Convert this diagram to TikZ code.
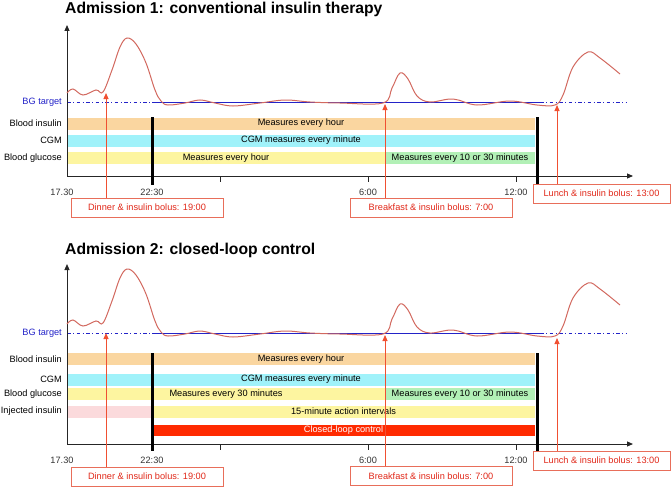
\documentclass[tikz,border=0pt]{standalone}
\usepackage{fontspec}
\setmainfont{Liberation Sans}
\usetikzlibrary{arrows.meta,positioning,calc}
\definecolor{BandOrange}{RGB}{250,214,160}
\definecolor{BandCyan}{RGB}{160,242,250}
\definecolor{BandYellow}{RGB}{253,245,160}
\definecolor{BandGreen}{RGB}{178,240,182}
\definecolor{BandPink}{RGB}{251,218,220}
\definecolor{LoopRed}{RGB}{255,42,0}
\definecolor{CurveRed}{RGB}{210,105,95}
\definecolor{ArrowRed}{RGB}{240,80,50}
\definecolor{CalloutRed}{RGB}{232,110,90}
\definecolor{TextRed}{RGB}{225,40,25}
\definecolor{TargetBlue}{RGB}{35,35,200}
\tikzset{
    % Panel titles
    title/.style={
        anchor=base west,
        inner sep=0pt,
        font=\fontsize{15.7}{19}\selectfont\bfseries
    },
    % Measurement bands
    band/.style={
        rectangle,
        draw=none,
        anchor=west,
        inner sep=0pt,
        outer sep=0pt,
        minimum height=12pt,
        text=black,
        font=\fontsize{9.2}{11}\selectfont
    },
    row label/.style={
        anchor=east,
        inner sep=0pt,
        text=black,
        font=\fontsize{9.2}{11}\selectfont
    },
    target label/.style={
        row label,
        text=TargetBlue
    },
    tick label/.style={
        inner sep=0pt,
        text=black!80,
        font=\fontsize{9.2}{11}\selectfont
    },
    callout/.style={
        rectangle,
        draw=CalloutRed,
        line width=1pt,
        fill=white,
        text=TextRed,
        minimum height=19pt,
        inner sep=0pt,
        font=\fontsize{9.2}{11}\selectfont
    },
    axis/.style={
        -{Triangle[length=6pt,width=5pt]},
        line width=1pt,
        color=black!85
    },
    tick/.style={
        line width=1pt,
        color=black!85
    },
    target/.style={
        line width=1pt,
        color=TargetBlue
    },
    target dashed/.style={
        target,
        dash pattern=on 3.5pt off 2.5pt on 1pt off 2.5pt
    },
    divider/.style={
        line width=3pt,
        color=black
    },
    arrow/.style={
        -{Triangle[length=6pt,width=5pt]},
        line width=1pt,
        color=ArrowRed
    },
    curve/.style={
        line width=1pt,
        color=CurveRed
    },
    glucose curve/.pic={
        \draw[curve] plot[smooth, tension=0.6] coordinates {
            (67,93) (73,89) (83,95) (96,90) (103,92) (112,70) (120,47)
            (127,38) (136,44) (146,63) (155,90) (161,101) (168,105)
            (185,103) (200,100) (215,103) (233,106) (260,103) (285,100)
            (310,102) (340,103) (383,103) (392,88) (400,73) (408,79)
            (417,96) (430,102) (453,99) (477,105) (510,101) (537,105)
            (555,105) (563,95) (573,67) (588,52) (600,58) (620,74)};
    }
}

\begin{document}
\begin{tikzpicture}[x=1pt, y=-1pt]
    \useasboundingbox (0,0) rectangle (671,487);

    % ---------------- Admission 1 ----------------
    \node[title] (title1) at (65,14) {Admission 1: conventional insulin therapy};

    % Bands
    \node[band, fill=BandOrange, minimum width=468pt] (ins1) at (67,123.5) {Measures every hour};
    \node[band, fill=BandCyan, minimum width=468pt] (cgm1) at (67,140.5) {CGM measures every minute};
    \node[band, fill=BandYellow, minimum width=318pt] (glu1) at (67,158) {Measures every hour};
    \node[band, fill=BandGreen, minimum width=150pt, right=0pt of glu1] (glu1b) {Measures every 10 or 30 minutes};

    \node[row label, left=5pt of ins1] (lins1) {Blood insulin};
    \node[row label, left=5pt of cgm1] (lcgm1) {CGM};
    \node[row label, left=5pt of glu1] (lglu1) {Blood glucose};

    % BG target
    \coordinate (bg1) at (67,102);
    \node[target label, left=5pt of bg1] (lbg1) {BG target};
    \draw[target dashed] (bg1) -- (152,102);
    \draw[target] (152,102) -- (540,102);
    \draw[target dashed] (540,102) -- (627,102);

    % Axes
    \coordinate (o1) at (67,176);
    \draw[axis] (o1) -- (67,25);
    \draw[axis] (o1) -- (633,176);
    \draw[tick] (220,176) -- (220,182);
    \draw[tick] (368,176) -- (368,182);
    \draw[tick] (516,176) -- (516,182);
    \node[tick label] (x1a) at (62,192) {17.30};
    \node[tick label] (x1b) at (152,192) {22:30};
    \node[tick label] (x1c) at (368,192) {6:00};
    \node[tick label] (x1d) at (516,192) {12:00};

    % Admission window
    \draw[divider] (152,117) -- (152,185);
    \draw[divider] (537,117) -- (537,185);

    % Blood glucose
    \pic at (0,0) {glucose curve};

    % Meals
    \node[callout, minimum width=152pt] (dinner1) at (147,207.5) {Dinner \& insulin bolus: 19:00};
    \node[callout, minimum width=162pt] (breakfast1) at (431,207.5) {Breakfast \& insulin bolus: 7:00};
    \node[callout, minimum width=137pt] (lunch1) at (601.5,193.5) {Lunch \& insulin bolus: 13:00};
    \coordinate (hit1a) at (106,93);
    \coordinate (hit1b) at (385,104);
    \coordinate (hit1c) at (557,105);
    \draw[arrow] (dinner1.north -| hit1a) -- (hit1a);
    \draw[arrow] (breakfast1.north -| hit1b) -- (hit1b);
    \draw[arrow] (lunch1.north -| hit1c) -- (hit1c);

    % ---------------- Admission 2 ----------------
    \node[title] (title2) at (65,254) {Admission 2: closed-loop control};

    % Bands
    \node[band, fill=BandOrange, minimum width=468pt] (ins2) at (67,359) {Measures every hour};
    \node[band, fill=BandCyan, minimum width=468pt] (cgm2) at (67,379.5) {CGM measures every minute};
    \node[band, fill=BandYellow, minimum width=318pt] (glu2) at (67,394) {Measures every 30 minutes};
    \node[band, fill=BandGreen, minimum width=150pt, right=0pt of glu2] (glu2b) {Measures every 10 or 30 minutes};
    \node[band, fill=BandPink, minimum width=85pt] (inj2) at (67,411.5) {};
    \node[band, fill=BandYellow, minimum width=383pt, right=0pt of inj2] (inj2b) {15-minute action intervals};
    \node[band, fill=LoopRed, text=white, minimum width=383pt, minimum height=11pt] (loop2) at (152,430.5) {Closed-loop control};

    \node[row label, left=5pt of ins2] (lins2) {Blood insulin};
    \node[row label, left=5pt of cgm2] (lcgm2) {CGM};
    \node[row label, left=5pt of glu2] (lglu2) {Blood glucose};
    \node[row label, left=5pt of inj2] (linj2) {Injected insulin};

    % BG target
    \coordinate (bg2) at (67,333);
    \node[target label, left=5pt of bg2] (lbg2) {BG target};
    \draw[target dashed] (bg2) -- (152,333);
    \draw[target] (152,333) -- (540,333);
    \draw[target dashed] (540,333) -- (627,333);

    % Axes
    \coordinate (o2) at (67,444);
    \draw[axis] (o2) -- (67,264);
    \draw[axis] (o2) -- (633,444);
    \draw[tick] (220,444) -- (220,450);
    \draw[tick] (368,444) -- (368,450);
    \draw[tick] (516,444) -- (516,450);
    \node[tick label] (x2a) at (62,460) {17.30};
    \node[tick label] (x2b) at (152,460) {22:30};
    \node[tick label] (x2c) at (368,460) {6:00};
    \node[tick label] (x2d) at (516,460) {12:00};

    % Admission window
    \draw[divider] (152,353) -- (152,451);
    \draw[divider] (537,353) -- (537,451);

    % Blood glucose
    \pic at (0,231) {glucose curve};

    % Meals
    \node[callout, minimum width=152pt] (dinner2) at (147,476.5) {Dinner \& insulin bolus: 19:00};
    \node[callout, minimum width=162pt] (breakfast2) at (431,476) {Breakfast \& insulin bolus: 7:00};
    \node[callout, minimum width=137pt] (lunch2) at (601.5,460.5) {Lunch \& insulin bolus: 13:00};
    \coordinate (hit2a) at (106,333);
    \coordinate (hit2b) at (385,335);
    \coordinate (hit2c) at (557,338);
    \draw[arrow] (dinner2.north -| hit2a) -- (hit2a);
    \draw[arrow] (breakfast2.north -| hit2b) -- (hit2b);
    \draw[arrow] (lunch2.north -| hit2c) -- (hit2c);
\end{tikzpicture}
\end{document}
